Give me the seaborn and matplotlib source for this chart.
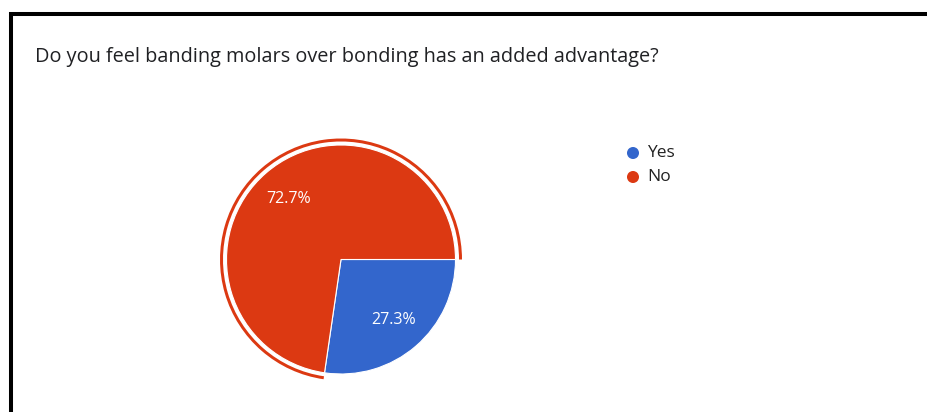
import matplotlib
matplotlib.use("Agg")
import matplotlib.pyplot as plt
from matplotlib.patches import Wedge, Rectangle
import seaborn as sns

# Survey question and responses
title = "Do you feel banding molars over bonding has an added advantage?"
answers = ["Yes", "No"]
shares = [27.3, 72.7]
colors = ["#3366CC", "#DC3912"]

sns.set_theme(style="white")
plt.rcParams["font.family"] = ["Open Sans", "DejaVu Sans"]

W, H = 928, 412
fig = plt.figure(figsize=(W / 100, H / 100), dpi=100)
ax = fig.add_axes([0, 0, 1, 1])

# Pie placed in pixel coordinates of the card
cx, cy, r = 341, H - 259.5, 114.5
wedges, texts, autotexts = ax.pie(
    shares,
    colors=colors,
    startangle=0,
    counterclock=False,
    center=(cx, cy),
    radius=r,
    autopct="%1.1f%%",
    pctdistance=0.7,
    wedgeprops=dict(edgecolor="white", linewidth=0.8),
    textprops=dict(color="white", fontsize=11.5),
    frame=True,
)

# Highlight ring around the selected slice
sel = wedges[1]
ax.add_patch(Wedge((cx, cy), r + 6.5, sel.theta1, sel.theta2, width=3,
                   facecolor=colors[1], edgecolor="none"))

ax.set_xlim(0, W)
ax.set_ylim(0, H)
ax.set_aspect("equal")
ax.axis("off")

# Question title
ax.text(35, H - 57, title, fontsize=14.3, va="center", ha="left", color="#202124")

# Legend
for i, (a, c) in enumerate(zip(answers, colors)):
    y = H - 153 - 24 * i
    ax.scatter([633], [y], s=75, color=c, edgecolors="none", zorder=3)
    ax.text(647, y, a, fontsize=12.5, va="center", ha="left", color="#222222")

# Card frame
fig.patches.append(Rectangle((11 / W, -0.1), 1.1, (H - 14) / H + 0.1,
                             transform=fig.transFigure, fill=False,
                             edgecolor="black", linewidth=2.9, clip_on=False))

fig.savefig("out.png", dpi=100, facecolor="white")
